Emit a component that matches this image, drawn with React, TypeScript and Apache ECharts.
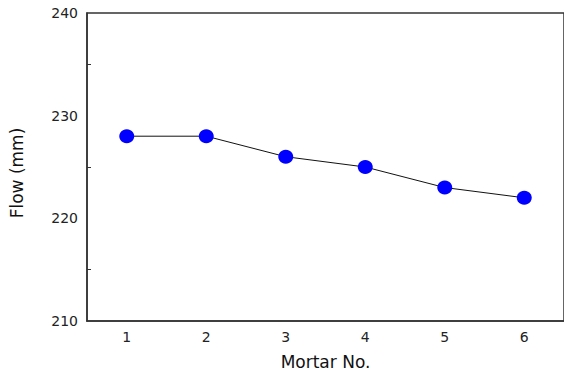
import React, { useEffect, useRef } from "react";
import * as echarts from "echarts";

const categories = ["1", "2", "3", "4", "5", "6"];
const flowValues = [228, 228, 226, 225, 223, 222];
const yTicks = { min: 210, max: 240, interval: 10 };

export default function App() {
  const ref = useRef<HTMLDivElement>(null);
  useEffect(() => {
    const chart = echarts.init(ref.current!, null, { renderer: "svg" });
    const font = "DejaVu Sans, Verdana, sans-serif";
    chart.setOption({
      animation: false,
      backgroundColor: "#ffffff",
      grid: {
        left: 85,
        top: 13,
        width: 480,
        height: 312,
        show: true,
        borderColor: "#333",
        borderWidth: 1.5,
        backgroundColor: "transparent",
      },
      xAxis: {
        type: "category",
        data: categories,
        boundaryGap: true,
        name: "Mortar No.",
        nameLocation: "middle",
        nameGap: 32,
        nameTextStyle: { fontFamily: font, fontSize: 17, color: "#111" },
        axisLine: { lineStyle: { color: "#333", width: 1.5 } },
        axisTick: { inside: true, length: 6, alignWithLabel: true, lineStyle: { color: "#333" } },
        axisLabel: { fontFamily: font, fontSize: 14, color: "#222", margin: 9 },
        splitLine: { show: false },
      },
      yAxis: {
        type: "value",
        min: yTicks.min,
        max: yTicks.max,
        interval: yTicks.interval,
        name: "Flow (mm)",
        nameLocation: "middle",
        nameGap: 62,
        nameTextStyle: { fontFamily: font, fontSize: 17, color: "#111", padding: [0, 12, 0, 0] },
        axisLine: { show: true, lineStyle: { color: "#333", width: 1.5 } },
        axisTick: { inside: true, length: 7, lineStyle: { color: "#333" } },
        minorTick: { show: true, splitNumber: 2, length: 4, lineStyle: { color: "#333" } },
        axisLabel: { fontFamily: font, fontSize: 14, color: "#222", margin: 9 },
        splitLine: { show: false },
      },
      series: [
        {
          type: "line",
          data: flowValues,
          symbol: "circle",
          symbolSize: [15, 14],
          itemStyle: { color: "#0000ff" },
          lineStyle: { color: "#111", width: 1 },
        },
      ],
    });
    return () => chart.dispose();
  }, []);
  return <div ref={ref} style={{ width: 564, height: 375, position: "absolute", left: 0, top: 0 }} />;
}
